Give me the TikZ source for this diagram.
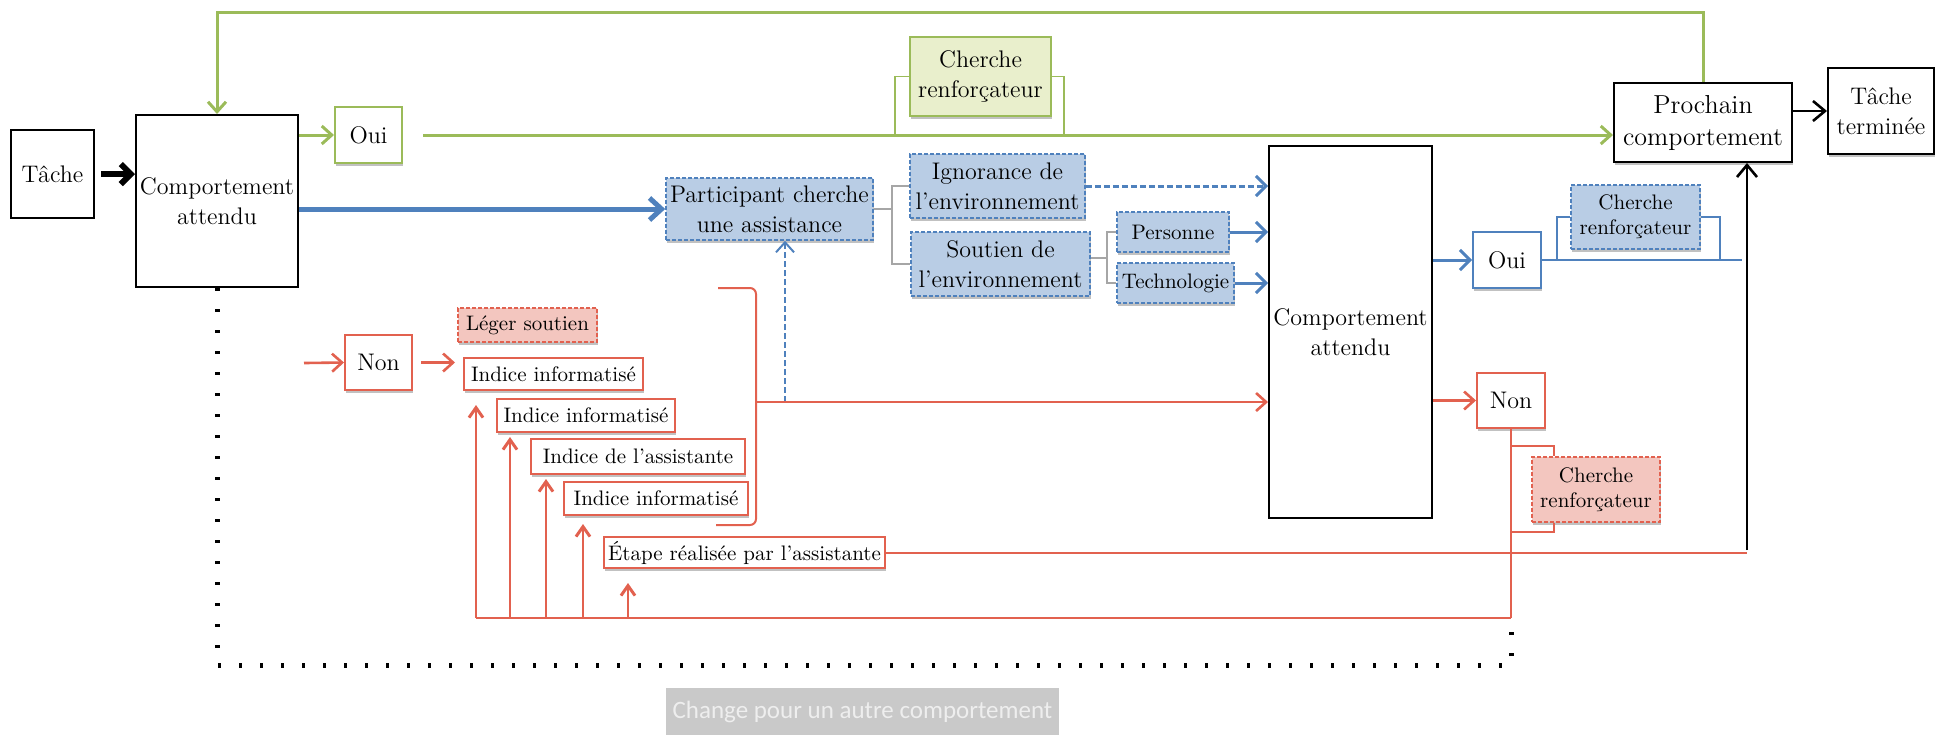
\documentclass[tikz,border=0pt]{standalone}
\usepackage{fontspec}
\newfontfamily\carl{Carlito}
\usetikzlibrary{arrows.meta,shadows}
\definecolor{gl}{HTML}{9BBB59}
\definecolor{gfill}{HTML}{E9EFCC}
\definecolor{bl}{HTML}{4F81BD}
\definecolor{bfill}{HTML}{B9CDE5}
\definecolor{rl}{HTML}{E2614F}
\definecolor{rfill}{HTML}{F3C6BF}
\definecolor{grfill}{HTML}{C9C9C9}
\definecolor{grtext}{HTML}{EEEEEE}
\definecolor{lnk}{HTML}{A6A6A6}
\newcommand{\bx}[7]{\node[#6, minimum width={(#4-#2)*0.5pt}, minimum height={(#5-#3)*0.5pt}] (#1) at ({(#2+#4)/2},{(#3+#5)/2}) {#7};}
\begin{document}
\begin{tikzpicture}[x=0.5pt,y=-0.5pt,
  base/.style={inner sep=0pt, align=center, font=\fontsize{12}{15}\selectfont},
  small/.style={font=\fontsize{10.5}{12.5}\selectfont},
  shad/.style={drop shadow={shadow xshift=0.6pt,shadow yshift=-1.5pt,opacity=0.35,fill=black!70}},
  kbox/.style={base, draw=black, line width=1pt, fill=white},
  gbox/.style={base, draw=gl, line width=1pt, fill=white, shad},
  gfbox/.style={base, draw=gl, line width=1pt, fill=gfill, shad},
  bbox/.style={base, draw=bl, line width=1pt, fill=white, shad},
  bfbox/.style={base, draw=bl, line width=0.8pt, dash pattern=on 2pt off 1pt, fill=bfill, shad},
  rbox/.style={base, draw=rl, line width=1pt, fill=white, shad},
  rfbox/.style={base, draw=rl, line width=0.8pt, dash pattern=on 2pt off 1pt, fill=rfill, shad},
  grbox/.style={inner sep=0pt, fill=grfill, text=grtext, font=\carl\fontsize{12.5}{14}\selectfont},
  gline/.style={draw=gl, line width=1.5pt},
  gthin/.style={draw=gl, line width=0.8pt},
  garr/.style={gline, -{Straight Barb[length=5pt,width=9pt]}},
  bthick/.style={draw=bl, line width=2.5pt, -{Straight Barb[length=6pt,width=11pt]}},
  barr/.style={draw=bl, line width=1.5pt, -{Straight Barb[length=5pt,width=10pt]}},
  bdarr/.style={barr, dash pattern=on 3pt off 1.5pt},
  bdvarr/.style={draw=bl, line width=1pt, dash pattern=on 3pt off 1.5pt, -{Straight Barb[length=5pt,width=9pt]}},
  bthin/.style={draw=bl, line width=0.9pt},
  lnkl/.style={draw=lnk, line width=0.6pt},
  rline/.style={draw=rl, line width=1pt},
  rarr/.style={draw=rl, line width=1.3pt, -{Straight Barb[length=5pt,width=9pt]}},
  rvarr/.style={draw=rl, line width=0.9pt, -{Straight Barb[length=5pt,width=7pt,line width=1.5pt]}},
  karr/.style={draw=black, line width=3pt, -{Straight Barb[length=5pt,width=10pt]}},
  karr2/.style={draw=black, line width=1.3pt, -{Straight Barb[length=6pt,width=10pt]}},
  dotl/.style={draw=black, line width=2.5pt, dash pattern=on 1.6pt off 8.9pt}
]
\useasboundingbox (0,0) rectangle (1952,736);
% nodes
\bx{tache}{11}{130}{94}{218}{kbox}{Tâche}
\bx{compA}{136}{115}{298}{287}{kbox}{Comportement\\attendu}
\bx{ouiA}{335}{107}{402}{163}{gbox}{Oui}
\bx{cherG}{910}{37}{1051}{116}{gfbox}{Cherche\\renforçateur}
\bx{proch}{1614}{83}{1792}{162}{kbox,shad,font=\fontsize{13}{16}\selectfont}{Prochain\\comportement}
\bx{tterm}{1828}{68}{1934}{154}{kbox,shad}{Tâche\\terminée}
\bx{part}{666}{178}{873}{240}{bfbox}{Participant cherche\\une assistance}
\bx{ign}{910}{154}{1085}{218}{bfbox}{Ignorance de\\l’environnement}
\bx{sout}{911}{232}{1090}{296}{bfbox}{Soutien de\\l’environnement}
\bx{pers}{1117}{212}{1229}{252}{bfbox,small}{Personne}
\bx{tech}{1117}{263}{1234}{303}{bfbox,small}{Technologie}
\bx{compB}{1269}{146}{1432}{518}{kbox}{Comportement\\attendu}
\bx{ouiB}{1473}{232}{1541}{288}{bbox}{Oui}
\bx{cherB}{1571}{185}{1700}{249}{bfbox,small}{Cherche\\renforçateur}
\bx{nonB}{1477}{373}{1545}{428}{rbox}{Non}
\bx{cherR}{1532}{457}{1660}{522}{rfbox,small}{Cherche\\renforçateur}
\bx{nonA}{345}{335}{412}{390}{rbox}{Non}
\bx{leger}{458}{308}{597}{342}{rfbox,small}{Léger soutien}
\bx{indA}{464}{358}{643}{390}{rbox,small}{Indice informatisé}
\bx{indB}{497}{399}{675}{432}{rbox,small}{Indice informatisé}
\bx{indC}{531}{439}{745}{474}{rbox,small}{Indice de l’assistante}
\bx{indD}{564}{482}{748}{515}{rbox,small}{Indice informatisé}
\bx{etape}{604}{537}{885}{568}{rbox,small}{Étape réalisée par l’assistante}
\bx{chg}{666}{688}{1059}{735}{grbox}{Change pour un autre comportement}
% coordinates
\coordinate (gb1) at (895,137);
\coordinate (gb2) at (1064,137);
\coordinate (pj) at (892,209);
\coordinate (sj) at (1107,258);
\coordinate (ob) at (1742,260);
\coordinate (cb1) at (1557,260);
\coordinate (cb2) at (1720,260);
\coordinate (up0) at (1747,550);
\coordinate (rb) at (1511,618);
\coordinate (rk1) at (1511,446);
\coordinate (rk2) at (1511,532);
\coordinate (v1) at (476,618);
\coordinate (v2) at (510,618);
\coordinate (v3) at (546,618);
\coordinate (v4) at (583,618);
\coordinate (v5) at (628,618);
\coordinate (nin) at (304,363);
\coordinate (kb1) at (718,288);
\coordinate (kb2) at (756,288);
\coordinate (kb3) at (756,525);
\coordinate (kb4) at (716,525);
\coordinate (km) at (756,402);
\coordinate (bv) at (785,402);
\coordinate (d1) at (217,665);
\coordinate (d2) at (1511,665);
% black
\draw[karr, shorten <=3pt] (tache.east) -- (tache.east -| compA.west);
\draw[karr2] (proch.east |- tterm) -- (tterm.west);
% green
\draw[garr] (compA.east |- ouiA) -- (ouiA.west);
\draw[garr, shorten <=10pt] (ouiA.east) -- (ouiA.east -| proch.west);
\draw[gthin] (gb1) |- (cherG.west);
\draw[gthin] (cherG.east) -| (gb2);
\draw[garr] (proch.north) -- ++(0,-70) -| (compA.north);
% blue
\draw[bthick] (compA.east |- part) -- (part.west);
\draw[lnkl] (part.east) -- (pj);
\draw[lnkl] (ign.west) -| (pj);
\draw[lnkl] (sout.west) -| (pj);
\draw[lnkl] (sout.east |- sj) -- (sj);
\draw[lnkl] (pers.west) -| (sj);
\draw[lnkl] (tech.west) -| (sj);
\draw[bdarr] (ign.east) -- (ign.east -| compB.west);
\draw[barr] (pers.east) -- (pers.east -| compB.west);
\draw[barr] (tech.east) -- (tech.east -| compB.west);
\draw[barr] (compB.east |- ouiB) -- (ouiB.west);
\draw[bthin] (ouiB.east) -- (ouiB.east -| ob);
\draw[bthin] (cb1) |- (cherB.west);
\draw[bthin] (cherB.east) -| (cb2);
\draw[bdvarr] (bv) -- (bv |- part.south);
% black up arrow
\draw[karr2] (up0) -- (up0 |- proch.south);
% red
\draw[rarr] (compB.east |- nonB) -- (nonB.west);
\draw[rline] (nonB.south) -- (rb);
\draw[rline] (rk1) -| ([xshift=11.5pt]cherR.north west);
\draw[rline] (rk2) -| ([xshift=11.5pt]cherR.south west);
\draw[rline] (etape.east) -- (etape.east -| up0);
\draw[rline] (v1) -- (rb);
\draw[rvarr, shorten >=7pt] (v1) -- (v1 |- indA.south);
\draw[rvarr, shorten >=2pt] (v2) -- (v2 |- indB.south);
\draw[rvarr, shorten >=2pt] (v3) -- (v3 |- indC.south);
\draw[rvarr, shorten >=4pt] (v4) -- (v4 |- indD.south);
\draw[rvarr, shorten >=7pt] (v5) -- (v5 |- etape.south);
\draw[rarr, shorten <=4pt, shorten >=4pt] (nonA.east) -- (nonA.east -| indA.west);
\draw[rarr] (nin) -- (nonA.west);
\draw[rline, rounded corners=3pt] (kb1) -- (kb2) -- (kb3) -- (kb4);
\draw[rarr] (km) -- (km -| compB.west);
% dotted
\draw[dotl] (compA.south) -- (d1) -- (d2) -- (rb);
\end{tikzpicture}
\end{document}
